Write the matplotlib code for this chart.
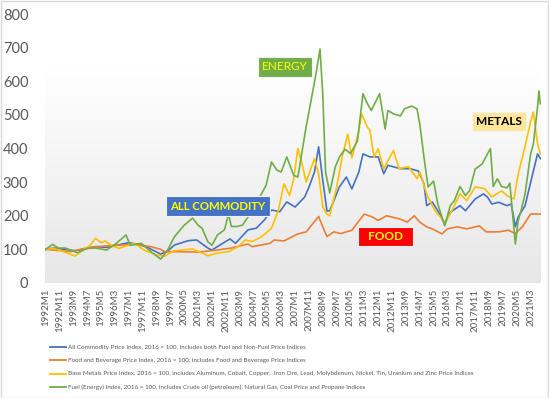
import matplotlib
matplotlib.use("Agg")
import matplotlib.pyplot as plt
import numpy as np
from matplotlib.patches import Rectangle
from matplotlib.lines import Line2D

plt.rcParams['font.family'] = ['Lato', 'DejaVu Sans']

# values, (month, index value)
energy_months = ["1992M1", "1992M6", "1992M10", "1993M3", "1993M7", "1993M12", "1994M7", "1995M1",
                 "1995M9", "1996M4", "1996M11", "1997M2", "1997M10", "1998M5", "1998M12", "1999M5",
                 "1999M10", "2000M5", "2000M11", "2001M3", "2001M6", "2001M10", "2002M1", "2002M5",
                 "2002M10", "2003M1", "2003M3", "2003M7", "2003M11", "2004M4", "2004M9", "2005M1",
                 "2005M4", "2005M8", "2005M12", "2006M3", "2006M7", "2006M12", "2007M3", "2007M9",
                 "2008M1", "2008M4", "2008M7", "2008M9", "2008M11", "2009M2", "2009M6", "2009M9",
                 "2010M1", "2010M5", "2010M10", "2011M2", "2011M5", "2011M8", "2012M2", "2012M6",
                 "2012M8", "2012M12", "2013M5", "2013M8", "2014M1", "2014M5", "2014M7", "2014M10",
                 "2015M1", "2015M5", "2015M8", "2016M1", "2016M5", "2016M8", "2016M12", "2017M4",
                 "2017M7", "2017M11", "2018M4", "2018M10", "2018M12", "2019M3", "2019M6", "2019M10",
                 "2019M12", "2020M2", "2020M4", "2020M6", "2020M8", "2020M11", "2021M3", "2021M5",
                 "2021M8", "2021M9", "2021M10"]
energy_vals = [100, 115, 104, 104, 98, 90, 103, 104,
               98, 118, 143, 112, 118, 93, 71, 98,
               138, 172, 193, 172, 162, 123, 112, 143,
               158, 205, 168, 168, 172, 202, 235, 267,
               290, 360, 335, 330, 375, 320, 315, 465,
               553, 620, 696, 560, 330, 268, 345, 375,
               398, 385, 422, 563, 535, 513, 563, 458,
               513, 503, 497, 518, 526, 518, 473, 375,
               286, 303, 235, 170, 230, 245, 287, 260,
               275, 339, 354, 400, 287, 310, 287, 283,
               297, 205, 116, 185, 213, 265, 384, 413,
               523, 571, 533]

allc_months = ["1992M1", "1992M7", "1993M3", "1993M10", "1994M6", "1995M1", "1995M9", "1996M4",
               "1997M1", "1997M8", "1998M3", "1998M12", "1999M5", "1999M10", "2000M8", "2001M2",
               "2001M10", "2002M1", "2002M8", "2003M2", "2003M6", "2004M3", "2004M9", "2005M3",
               "2005M8", "2006M2", "2006M7", "2007M1", "2007M8", "2007M11", "2008M3", "2008M6",
               "2008M9", "2008M12", "2009M2", "2009M6", "2009M9", "2010M2", "2010M6", "2010M11",
               "2011M2", "2011M7", "2012M1", "2012M5", "2012M8", "2013M5", "2013M12", "2014M6",
               "2014M10", "2014M12", "2015M4", "2015M8", "2016M1", "2016M5", "2016M12", "2017M4",
               "2017M11", "2018M5", "2018M8", "2018M11", "2019M4", "2019M10", "2020M1", "2020M4",
               "2020M6", "2020M11", "2021M4", "2021M8", "2021M10"]
allc_vals = [100, 104, 100, 96, 102, 108, 106, 112,
             120, 115, 105, 86, 95, 113, 126, 128,
             104, 98, 116, 131, 118, 158, 163, 188,
             217, 212, 241, 226, 256, 285, 330, 405,
             305, 214, 215, 255, 286, 315, 280, 330,
             384, 375, 375, 325, 350, 340, 340, 333,
             295, 230, 241, 215, 176, 210, 230, 215,
             250, 265, 255, 235, 240, 230, 235, 167,
             196, 230, 316, 384, 370]

metals_months = ["1992M1", "1992M7", "1993M2", "1993M10", "1994M4", "1994M9", "1995M1", "1995M5",
                 "1995M8", "1996M1", "1996M6", "1996M11", "1997M5", "1997M12", "1998M9", "1999M3",
                 "1999M9", "2000M3", "2000M11", "2001M6", "2001M10", "2002M5", "2003M1", "2003M8",
                 "2004M1", "2004M6", "2005M1", "2005M8", "2006M1", "2006M5", "2006M9", "2006M12",
                 "2007M3", "2007M6", "2007M9", "2008M3", "2008M6", "2008M9", "2008M12", "2009M2",
                 "2009M7", "2009M11", "2010M3", "2010M6", "2010M11", "2011M1", "2011M5", "2011M7",
                 "2011M10", "2012M1", "2012M5", "2012M12", "2013M4", "2013M11", "2014M5", "2014M7",
                 "2014M12", "2015M1", "2015M6", "2016M1", "2016M5", "2016M12", "2017M5", "2017M11",
                 "2018M6", "2018M11", "2019M6", "2019M10", "2020M3", "2020M6", "2020M11", "2021M3",
                 "2021M5", "2021M8", "2021M10"]
metals_vals = [100, 103, 93, 80, 98, 112, 133, 120,
               125, 110, 103, 110, 118, 98, 83, 80,
               95, 98, 101, 89, 81, 89, 93, 108,
               128, 123, 138, 163, 217, 295, 260, 310,
               400, 355, 300, 370, 325, 226, 205, 200,
               285, 375, 443, 372, 452, 503, 465, 453,
               375, 399, 340, 394, 340, 346, 310, 330,
               265, 255, 215, 181, 205, 265, 245, 286,
               280, 256, 274, 260, 250, 324, 406, 480,
               508, 414, 384]

food_months = ["1992M1", "1992M9", "1993M7", "1994M7", "1995M1", "1996M4", "1997M5", "1997M10",
               "1998M5", "1998M12", "1999M3", "2000M3", "2001M3", "2002M3", "2003M3", "2004M3",
               "2004M6", "2005M7", "2005M10", "2006M5", "2007M3", "2007M9", "2008M6", "2008M9",
               "2008M12", "2009M5", "2009M10", "2010M6", "2010M11", "2011M3", "2011M9", "2012M1",
               "2012M7", "2013M5", "2013M10", "2014M3", "2014M7", "2014M12", "2015M4", "2015M11",
               "2016M3", "2016M10", "2017M5", "2018M2", "2018M7", "2019M4", "2019M11", "2020M4",
               "2020M9", "2021M3", "2021M10"]
food_vals = [100, 97, 93, 105, 108, 112, 115, 112,
             108, 100, 93, 93, 92, 97, 104, 116,
             108, 118, 128, 125, 146, 152, 198, 167,
             138, 152, 147, 157, 184, 205, 196, 186,
             200, 190, 181, 200, 181, 167, 161, 146,
             161, 167, 161, 170, 152, 152, 157, 147,
             167, 205, 205]

legend_labels = [
    "All Commodity Price Index, 2016 = 100, includes both Fuel and Non-Fuel Price Indices",
    "Food and Beverage Price Index, 2016 = 100, includes Food and Beverage Price Indices",
    "Base Metals Price Index, 2016 = 100, includes Aluminum, Cobalt, Copper,  Iron Ore, Lead, Molybdenum, Nickel, Tin, Uranium and Zinc Price Indices",
    "Fuel (Energy) Index, 2016 = 100, includes Crude oil (petroleum), Natural Gas, Coal Price and Propane Indices",
]
colors = ["#4472C4", "#ED7D31", "#FFC000", "#70AD47"]

n_months = 358  # 1992M1 .. 2021M10


def month_idx(s):
    y, m = s.split("M")
    return (int(y) - 1992) * 12 + int(m) - 1


def month_label(i):
    return f"{1992 + i // 12}M{i % 12 + 1}"


W, H = 549, 398
fig = plt.figure(figsize=(W / 100, H / 100), dpi=100)


def fx(px):
    return px / W


def fy(py):
    return 1 - py / H


ax = fig.add_axes([fx(45), fy(283), fx(541) - fx(45), fy(14) - fy(283)])

# gradient background of the plot area
grad = np.linspace(0, 1, 256).reshape(-1, 1)
grad = np.clip(grad / 0.8, 0, 1)
top = np.array([1.0, 1.0, 1.0])
bot = np.array([0.905, 0.905, 0.905])
img = bot + (top - bot) * grad[..., None]
img = img[::-1]
ax.imshow(img, extent=[-0.5, n_months - 0.5, 0, 800], aspect="auto", origin="upper", zorder=0)

series = [(allc_months, allc_vals), (food_months, food_vals),
          (metals_months, metals_vals), (energy_months, energy_vals)]
order = [1, 0, 2, 3]
for k in order:
    months, vals = series[k]
    xs = [month_idx(m) for m in months]
    ax.plot(xs, vals, color=colors[k], lw=1.2, zorder=2 + k)

ax.set_xlim(-0.5, n_months - 0.5)
ax.set_ylim(0, 800)
ticks = list(range(0, n_months, 10))
ax.set_xticks(ticks)
ax.set_xticklabels([month_label(i) for i in ticks], rotation=90, fontsize=7, color="#595959")
ax.set_yticks(range(0, 801, 100))
ax.set_yticklabels([str(v) for v in range(0, 801, 100)], fontsize=10.5, color="#595959")
ax.tick_params(length=0, pad=4)
ax.tick_params(axis="y", pad=12)
for s in ax.spines.values():
    s.set_visible(False)


def label_box(x0, y0, x1, y1, text, face, tcolor, bold, size):
    fig.add_artist(Rectangle((fx(x0), fy(y1)), fx(x1) - fx(x0), fy(y0) - fy(y1),
                             transform=fig.transFigure, facecolor=face,
                             edgecolor="#f2f2f2", lw=0.8, zorder=10))
    fig.text(fx((x0 + x1) / 2), fy((y0 + y1) / 2), text, ha="center", va="center",
             color=tcolor, fontsize=size, fontweight="bold" if bold else "normal", zorder=11)


label_box(166, 196, 270, 216, "ALL COMMODITY", "#4472C4", "#FFFF00", True, 8.2)
label_box(258, 57, 312, 77, "ENERGY", "#70AD47", "#FFFF00", False, 8.5)
label_box(472, 112, 526, 131, "METALS", "#FFE699", "#000000", True, 8.5)
label_box(358, 227, 413, 246, "FOOD", "#FF0000", "#FFFF00", True, 8.5)

# legend below the chart
for i, lab in enumerate(legend_labels):
    yy = 347 + i * 13.4
    fig.add_artist(Line2D([fx(50), fx(66)], [fy(yy), fy(yy)], color=colors[i], lw=1.3,
                          transform=fig.transFigure))
    fig.text(fx(67.5), fy(yy), lab, fontsize=4.5, color="#595959", va="center", ha="left")

fig.add_artist(Rectangle((0.001, 0.001), 0.997, 0.997, transform=fig.transFigure,
                         fill=False, edgecolor="#d9d9d9", lw=1))

fig.savefig("out.png", dpi=100)
